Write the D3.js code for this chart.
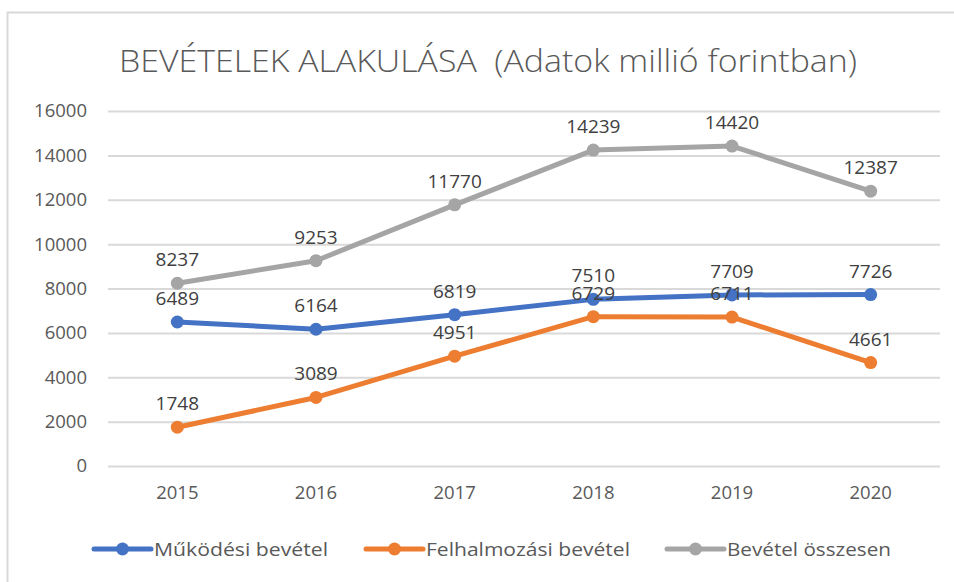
<!DOCTYPE html>
<html>
<head>
<meta charset="utf-8">
<script src="https://cdn.jsdelivr.net/npm/d3@7"></script>
<style>
  body { margin: 0; background: #fff; }
  svg text { font-family: "Open Sans", "Noto Sans", sans-serif; }
</style>
</head>
<body>
<div id="chart"></div>
<script>
const years = ["2015", "2016", "2017", "2018", "2019", "2020"];
const mukodesi = [6489, 6164, 6819, 7510, 7709, 7726];
const felhalmozasi = [1748, 3089, 4951, 6729, 6711, 4661];
const osszesen = [8237, 9253, 11770, 14239, 14420, 12387];
const seriesNames = ["Működési bevétel", "Felhalmozási bevétel", "Bevétel összesen"];
const yTicks = [0, 2000, 4000, 6000, 8000, 10000, 12000, 14000, 16000];

const colors = ["#4472C4", "#ED7D31", "#A5A5A5"];
const series = [mukodesi, felhalmozasi, osszesen].map((values, i) => ({
    name: seriesNames[i],
    color: colors[i],
    values: values.map((v, j) => ({ year: years[j], value: v }))
}));

const dimensions = {
    width: 954,
    height: 582,
    margin: { top: 111, right: 14, bottom: 116, left: 108 }
};

const svg = d3.select("#chart")
    .append("svg")
    .attr("width", dimensions.width)
    .attr("height", dimensions.height);

// chart frame
svg.append("path")
    .attr("d", `M7.5,${dimensions.height} V12.5 H${dimensions.width}`)
    .attr("fill", "none")
    .attr("stroke", "#D9D9D9")
    .attr("stroke-width", 2);

const xScale = d3.scaleBand()
    .domain(years)
    .range([dimensions.margin.left, dimensions.width - dimensions.margin.right]);

const yScale = d3.scaleLinear()
    .domain([0, 16000])
    .range([dimensions.height - dimensions.margin.bottom, dimensions.margin.top]);

// gridlines + y labels
const yAxis = svg.append("g")
    .attr("transform", `translate(${dimensions.margin.left},0)`)
    .call(d3.axisLeft(yScale).tickValues(yTicks)
        .tickFormat(d3.format("d"))
        .tickSize(-(dimensions.width - dimensions.margin.left - dimensions.margin.right))
        .tickPadding(21));
yAxis.select(".domain").remove();
yAxis.selectAll("line").attr("stroke", "#D9D9D9").attr("stroke-width", 2);
yAxis.selectAll("text")
    .attr("fill", "#595959")
    .attr("font-size", 18.5)
    .attr("font-family", "Open Sans");

// x labels
const xAxis = svg.append("g")
    .attr("transform", `translate(0,${yScale(0)})`)
    .call(d3.axisBottom(xScale).tickSize(0).tickPadding(20));
xAxis.select(".domain").remove();
xAxis.selectAll("text")
    .attr("fill", "#595959")
    .attr("font-size", 18.5)
    .attr("font-family", "Open Sans");

const xPos = d => xScale(d.year) + xScale.bandwidth() / 2;

const line = d3.line()
    .x(xPos)
    .y(d => yScale(d.value));

// draw gray first so blue/orange sit on top
const drawOrder = [2, 1, 0];
drawOrder.forEach(i => {
    const s = series[i];
    svg.append("path")
        .datum(s.values)
        .attr("fill", "none")
        .attr("stroke", s.color)
        .attr("stroke-width", 5)
        .attr("stroke-linejoin", "round")
        .attr("d", line);

    svg.selectAll(null)
        .data(s.values)
        .enter()
        .append("circle")
        .attr("cx", xPos)
        .attr("cy", d => yScale(d.value))
        .attr("r", 6.5)
        .attr("fill", s.color);
});

// data labels
series.forEach(s => {
    svg.selectAll(null)
        .data(s.values)
        .enter()
        .append("text")
        .attr("x", xPos)
        .attr("y", d => yScale(d.value) - 17)
        .attr("text-anchor", "middle")
        .attr("fill", "#404040")
        .attr("font-size", 19)
        .text(d => d.value);
});

// title
svg.append("text")
    .attr("x", 488)
    .attr("y", 72)
    .attr("text-anchor", "middle")
    .attr("fill", "#595959")
    .attr("font-size", 31)
    .attr("font-weight", 300)
    .style("white-space", "pre")
    .attr("textLength", 738)
    .attr("lengthAdjust", "spacingAndGlyphs")
    .text("BEVÉTELEK ALAKULÁSA  (Adatok millió forintban)");

// legend
const legendX = [94, 366, 667];
const legendTextW = [174, 204, 164];
const legend = svg.selectAll(".legend")
    .data(series)
    .enter()
    .append("g")
    .attr("class", "legend")
    .attr("transform", (d, i) => `translate(${legendX[i]},549)`);

legend.append("line")
    .attr("x1", 0)
    .attr("x2", 57)
    .attr("stroke", d => d.color)
    .attr("stroke-width", 5)
    .attr("stroke-linecap", "round");

legend.append("circle")
    .attr("cx", 28.5)
    .attr("r", 6.5)
    .attr("fill", d => d.color);

legend.append("text")
    .attr("x", 60)
    .attr("y", 7)
    .attr("fill", "#595959")
    .attr("font-size", 19)
    .attr("textLength", (d, i) => legendTextW[i])
    .attr("lengthAdjust", "spacingAndGlyphs")
    .text(d => d.name);
</script>
</body>
</html>
